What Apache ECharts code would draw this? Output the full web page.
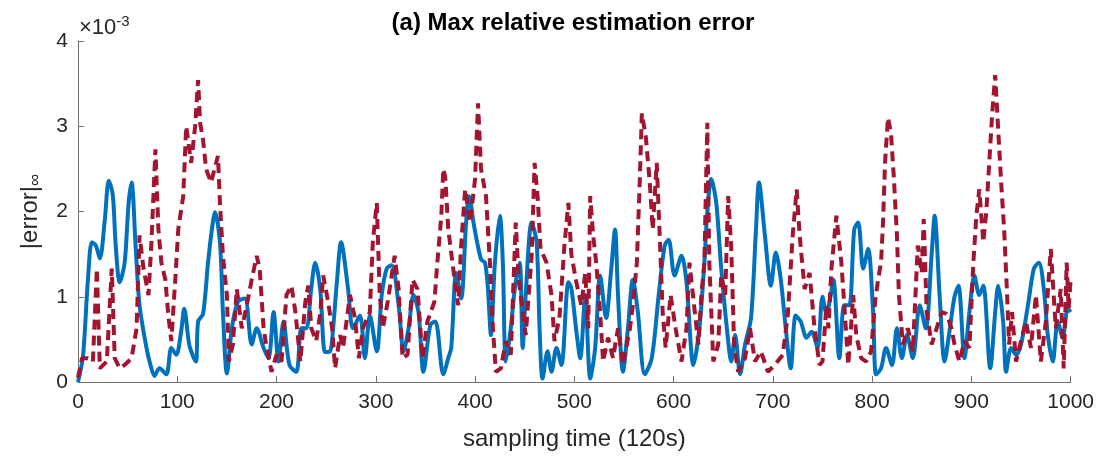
<!DOCTYPE html>
<html>
<head>
<meta charset="utf-8">
<script src="https://cdn.jsdelivr.net/npm/echarts@6/dist/echarts.min.js"></script>
<style>html,body{margin:0;padding:0;background:#fff;}#c{width:1097px;height:456px;}</style>
</head>
<body>
<div id="c"></div>
<script>
const xTicks = [0,100,200,300,400,500,600,700,800,900,1000];
const yTicks = [0,1,2,3,4];

const blueX = [0,5,10,14,18,22,27,31,35,38,42,47,51,54,58,62,69,73,77,82,89,94,99,104,107,112,116,119,121,126,131,135,138,143,146,150,155,161,168,175,180,187,192,197,202,207,213,220,225,230,235,239,244,249,254,257,261,265,272,277,284,289,294,301,306,311,316,323,328,333,338,343,348,355,360,368,373,376,381,386,391,394,399,406,410,413,416,420,425,428,431,436,440,445,448,451,457,462,465,468,473,477,482,487,494,497,502,506,511,516,521,526,532,537,541,544,549,554,559,564,571,578,585,591,595,601,608,613,620,626,631,634,638,643,648,655,658,662,667,672,678,683,686,692,698,703,708,713,718,723,728,734,739,745,750,754,758,761,767,772,777,782,786,791,796,801,804,809,814,820,825,830,835,841,848,854,860,863,868,873,878,883,887,893,898,903,908,912,919,924,927,932,935,940,945,950,957,963,968,973,977,982,987,992,997,1000];
const blueY = [0.0,0.3,1.2,1.64,1.6,1.45,1.9,2.36,2.2,1.6,1.17,1.4,2.1,2.34,1.6,0.9,0.4,0.2,0.07,0.16,0.09,0.4,0.32,0.6,0.86,0.44,0.3,0.24,0.71,0.8,1.4,1.8,1.99,1.64,0.82,0.1,0.63,0.94,0.98,0.44,0.63,0.4,0.28,0.82,0.24,0.71,0.2,0.12,0.63,0.63,1.1,1.4,1.09,0.35,0.36,0.63,1.2,1.64,1.1,0.63,0.78,0.28,0.78,0.36,1.02,1.33,1.37,0.9,0.36,0.63,1.02,0.82,0.12,0.67,0.71,0.09,0.28,0.4,1.28,0.98,1.87,2.18,1.83,1.44,1.4,1.09,0.55,1.4,1.95,1.4,0.24,0.63,1.09,1.4,0.4,1.02,1.87,1.64,0.63,0.04,0.36,0.12,0.4,0.2,1.17,1.1,0.6,0.28,1.02,0.04,0.4,1.25,0.75,1.3,1.79,1.02,0.12,0.63,1.2,0.82,0.09,0.28,1.02,1.6,1.67,1.25,1.48,1.17,0.2,0.63,1.4,2.0,2.38,2.1,1.33,0.48,0.24,0.55,0.09,0.44,0.75,1.79,2.34,1.72,1.13,1.52,1.2,0.63,0.16,0.78,0.71,0.52,0.59,0.4,1.0,0.8,1.0,1.2,0.28,0.9,0.9,1.79,1.87,1.33,1.56,0.82,0.09,0.16,0.4,0.2,0.63,0.28,0.55,0.28,0.9,0.63,1.5,1.95,1.02,0.24,0.6,1.0,1.13,0.28,0.82,1.25,1.02,1.13,0.16,0.82,1.13,0.71,0.12,0.4,0.32,0.44,0.9,1.33,1.4,1.09,0.55,0.24,0.71,0.52,0.86,0.82];

const redX = [0,4,10,15,19,22,29,34,37,42,47,54,59,62,66,71,74,78,81,84,88,91,94,98,101,106,109,114,118,121,123,126,129,134,141,143,146,150,152,156,160,165,170,175,180,183,187,190,195,200,205,210,215,219,224,229,232,235,240,244,247,252,256,259,264,267,274,279,283,287,294,297,301,304,307,312,319,323,327,332,337,342,347,352,359,362,366,368,370,373,378,383,386,390,395,400,403,406,411,415,418,421,426,431,436,441,444,448,451,457,460,463,466,472,477,480,485,490,494,497,502,507,511,514,516,519,522,526,529,534,539,544,549,556,559,563,566,568,572,576,579,583,586,589,592,597,602,608,613,616,621,625,628,631,634,636,640,645,648,652,655,658,661,665,672,677,682,688,695,702,710,715,720,724,727,732,737,742,747,750,754,756,759,764,769,772,776,781,784,789,794,799,803,806,809,811,813,816,819,822,825,827,831,836,841,846,850,852,855,860,865,870,875,880,883,888,893,898,902,905,908,912,915,918,921,924,927,930,933,936,938,941,945,950,955,960,965,970,975,980,985,990,993,996,998,1000];
const redY = [0.05,0.28,0.28,0.24,1.33,0.16,0.24,1.33,0.28,0.16,0.2,0.28,0.63,1.72,1.33,1.02,1.64,2.73,1.79,1.4,1.2,0.78,0.48,1.2,1.79,2.18,3.0,2.57,3.0,3.54,3.04,2.84,2.5,2.34,2.65,2.1,1.48,1.02,0.24,0.44,1.09,0.63,0.9,1.2,1.48,1.33,0.63,0.4,0.12,0.32,0.24,1.02,1.13,0.82,0.24,0.94,1.13,0.63,0.48,0.8,1.25,0.94,0.63,0.16,0.55,0.4,1.02,0.75,0.28,0.63,0.82,1.64,2.1,1.02,0.63,0.94,1.48,1.09,0.28,0.32,1.2,1.09,0.28,0.71,0.94,1.4,1.95,2.5,2.4,1.79,1.33,0.9,1.6,2.26,1.87,2.38,3.27,2.5,2.18,1.4,0.63,0.12,0.16,0.48,0.32,1.87,1.2,0.82,0.55,1.48,2.57,2.18,1.56,1.4,1.02,0.48,0.75,1.6,2.1,1.5,1.17,0.9,1.28,0.63,2.18,1.72,1.4,0.82,0.24,0.52,0.28,0.63,0.2,0.63,0.9,1.4,2.38,3.15,2.88,2.34,1.79,2.57,1.72,0.82,0.4,1.02,0.63,0.24,0.63,1.4,0.86,0.44,1.02,1.4,3.04,1.4,0.24,0.44,1.25,1.02,2.18,1.6,0.44,0.12,0.28,0.63,0.24,0.36,0.12,0.2,0.32,0.78,1.72,2.26,1.72,1.09,1.28,0.63,0.2,0.24,0.9,0.63,1.33,1.95,1.4,0.9,0.2,1.02,0.55,0.28,0.24,0.36,0.94,1.2,1.4,1.87,2.57,3.1,2.92,2.38,1.72,1.02,0.44,0.63,0.36,1.6,1.28,1.91,0.82,0.44,0.63,0.82,0.8,0.63,0.44,0.24,0.48,0.4,1.4,1.95,2.26,1.64,1.99,2.57,3.15,3.6,2.96,2.34,1.79,1.02,0.44,0.82,0.24,0.48,0.71,0.4,1.02,0.24,0.71,1.56,0.63,1.09,0.16,1.4,0.86,1.2];

const blueData = blueX.map((x, i) => [x, blueY[i]]);
const redData = redX.map((x, i) => [x, redY[i]]);

const chart = echarts.init(document.getElementById('c'), null, {renderer: 'canvas'});
const axisColor = '#707070';
const textColor = '#262626';
const font = 'Liberation Sans, Arial, sans-serif';

chart.setOption({
  animation: false,
  backgroundColor: '#ffffff',
  title: {
    text: '(a) Max relative estimation error',
    left: 568, top: 6, textAlign: 'center',
    textStyle: {fontFamily: font, fontSize: 24, fontWeight: 'bold', color: '#000'}
  },
  grid: {left: 78, right: 26, top: 41, bottom: 72},
  xAxis: {
    type: 'value', min: xTicks[0], max: xTicks[xTicks.length - 1], interval: 100,
    name: 'sampling time (120s)', nameLocation: 'middle', nameGap: 45,
    nameTextStyle: {fontFamily: font, fontSize: 24, color: textColor},
    axisLine: {show: true, lineStyle: {color: axisColor, width: 1}},
    axisTick: {show: true, inside: true, length: 6, lineStyle: {color: axisColor}},
    axisLabel: {fontFamily: font, fontSize: 21, color: textColor, margin: 10,
      formatter: v => String(v)},
    splitLine: {show: false}
  },
  yAxis: {
    type: 'value', min: yTicks[0], max: yTicks[yTicks.length - 1], interval: 1,
    name: '|error|{s|∞}', nameLocation: 'middle', nameGap: 34, nameRotate: 90,
    nameTextStyle: {fontFamily: font, fontSize: 24, color: textColor,
      rich: {s: {fontFamily: font, fontSize: 17, color: textColor, verticalAlign: 'bottom', padding: [10, 0, 0, 0]}}},
    axisLine: {show: true, lineStyle: {color: axisColor, width: 1}},
    axisTick: {show: true, inside: true, length: 6, lineStyle: {color: axisColor}},
    axisLabel: {fontFamily: font, fontSize: 21, color: textColor, margin: 10},
    splitLine: {show: false}
  },
  graphic: [{
    type: 'text', left: 79, top: 14,
    style: {
      text: '×10{sup|-3}',
      font: '22px Liberation Sans, Arial, sans-serif',
      fill: textColor,
      rich: {sup: {fontSize: 15, fontFamily: font, fill: textColor, verticalAlign: 'top', padding: [0, 0, 12, 0]}}
    }
  }],
  series: [
    {type: 'line', data: blueData, showSymbol: false, smooth: 0.3,
     lineStyle: {color: '#0072BD', width: 4}, z: 2},
    {type: 'line', data: redData, showSymbol: false, smooth: false,
     lineStyle: {color: '#A2142F', width: 4, type: [10, 6]}, z: 3}
  ]
});
</script>
</body>
</html>
